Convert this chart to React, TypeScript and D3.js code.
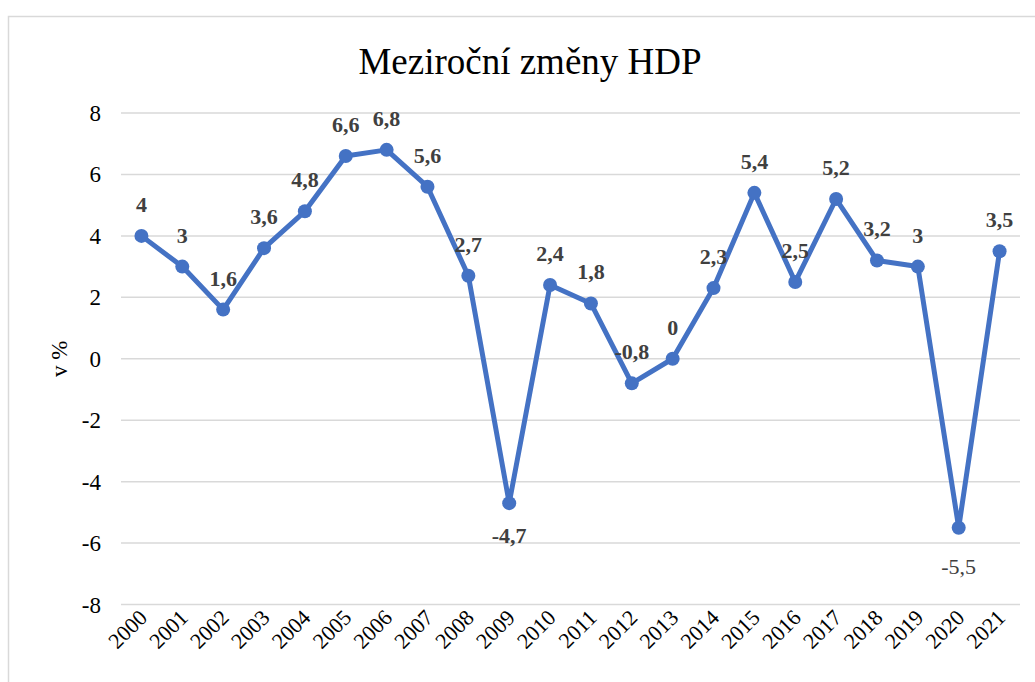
import React, { useEffect, useRef } from 'react';
import * as d3 from 'd3';

const years = ['2000','2001','2002','2003','2004','2005','2006','2007','2008','2009','2010','2011','2012','2013','2014','2015','2016','2017','2018','2019','2020','2021'];
const gdpChange = [4, 3, 1.6, 3.6, 4.8, 6.6, 6.8, 5.6, 2.7, -4.7, 2.4, 1.8, -0.8, 0, 2.3, 5.4, 2.5, 5.2, 3.2, 3, -5.5, 3.5];
const yTicks = [-8, -6, -4, -2, 0, 2, 4, 6, 8];

const W = 1035;
const H = 682;
const SERIF = '"Liberation Serif", "Times New Roman", Times, serif';

export default function App() {
  const svgRef = useRef<SVGSVGElement>(null);

  useEffect(() => {
    if (!svgRef.current) return;
    const svg = d3.select(svgRef.current);
    svg.selectAll('*').remove();

    const x = d3.scalePoint<string>().domain(years).range([121, 1020]).padding(0.5);
    const y = d3.scaleLinear().domain([-8, 8]).range([604.5, 113]);

    // outer frame
    svg.append('rect')
      .attr('x', 8.5).attr('y', 16.5)
      .attr('width', 1040).attr('height', 700)
      .attr('fill', 'white')
      .attr('stroke', '#d9d9d9')
      .attr('stroke-width', 1.5);

    svg.append('text')
      .attr('x', 530).attr('y', 74)
      .attr('text-anchor', 'middle')
      .style('font-family', SERIF)
      .style('font-size', '37px')
      .attr('fill', '#000')
      .text('Meziroční změny HDP');

    // gridlines
    svg.append('g').selectAll('line')
      .data(yTicks)
      .enter().append('line')
      .attr('x1', 121).attr('x2', 1020)
      .attr('y1', d => y(d)).attr('y2', d => y(d))
      .attr('stroke', '#d9d9d9')
      .attr('stroke-width', 1.5);

    // y tick labels
    svg.append('g').selectAll('text')
      .data(yTicks)
      .enter().append('text')
      .attr('x', 101).attr('y', d => y(d))
      .attr('dy', '0.35em')
      .attr('text-anchor', 'end')
      .style('font-family', SERIF)
      .style('font-size', '23px')
      .attr('fill', '#000')
      .text(d => String(d));

    svg.append('text')
      .attr('transform', `translate(67,${y(0)}) rotate(-90)`)
      .attr('text-anchor', 'middle')
      .style('font-family', SERIF)
      .style('font-size', '23px')
      .attr('fill', '#000')
      .text('v %');

    // x labels
    svg.append('g').selectAll('text')
      .data(years)
      .enter().append('text')
      .attr('transform', d => `translate(${(x(d) as number) + 7},${619}) rotate(-45)`)
      .attr('text-anchor', 'end')
      .style('font-family', SERIF)
      .style('font-size', '22px')
      .attr('fill', '#000')
      .text(d => d);

    const line = d3.line<number>()
      .x((_, i) => x(years[i]) as number)
      .y(d => y(d));

    svg.append('path')
      .datum(gdpChange)
      .attr('d', line)
      .attr('fill', 'none')
      .attr('stroke', '#4472c4')
      .attr('stroke-width', 5)
      .attr('stroke-linejoin', 'round');

    svg.append('g').selectAll('circle')
      .data(gdpChange)
      .enter().append('circle')
      .attr('cx', (_, i) => x(years[i]) as number)
      .attr('cy', d => y(d))
      .attr('r', 7)
      .attr('fill', '#4472c4');

    // data labels: above the point, the two deep dips below it
    const below = (d: number) => d < -2;

    svg.append('g').selectAll('text')
      .data(gdpChange)
      .enter().append('text')
      .attr('x', (_, i) => x(years[i]) as number)
      .attr('y', (d, i) => y(d) + (below(d) ? (i === 20 ? 46 : 40) : -24))
      .attr('text-anchor', 'middle')
      .style('font-family', SERIF)
      .style('font-size', '22px')
      .style('font-weight', (_, i) => (i === 20 ? 'normal' : 'bold'))
      .attr('fill', '#404040')
      .text(d => String(d).replace('.', ','));
  }, []);

  return (
    <div style={{ position: 'absolute', left: 0, top: 0 }}>
      <svg ref={svgRef} width={W} height={H} style={{ display: 'block', background: 'white' }} />
    </div>
  );
}
